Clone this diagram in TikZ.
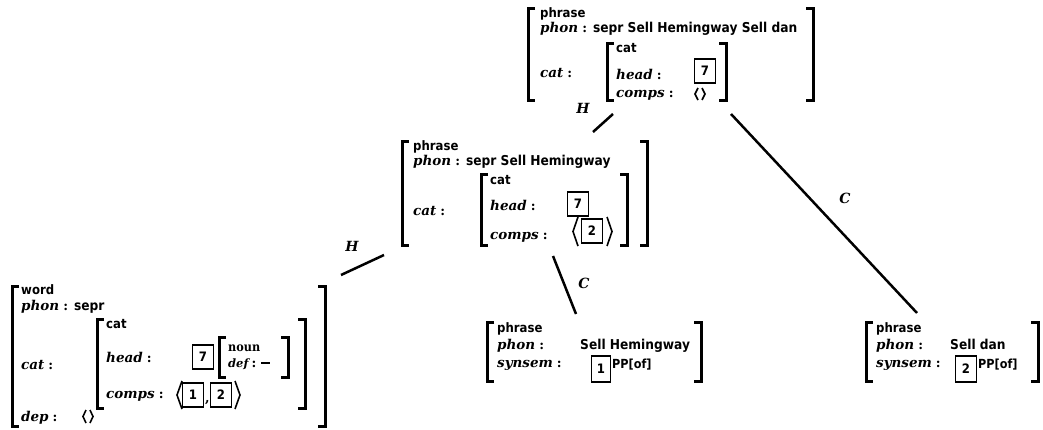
\documentclass[tikz,border=0pt]{standalone}
\usepackage{fontspec}
\usetikzlibrary{fit}

% fonts: bold italic feature names, heavy condensed sans values, bold roman atoms
\newfontfamily\attfont{DejaVu Serif}
\newfontfamily\valfont{DejaVu Sans Condensed}
\newfontfamily\romfont{DejaVu Serif Condensed}

\newcommand\att[1]{{\attfont\bfseries\itshape\fontsize{13.5}{16}\selectfont #1}}
\newcommand\val[1]{{\valfont\bfseries\fontsize{13.6}{16}\selectfont #1}}
\newcommand\typ[1]{{\valfont\bfseries\fontsize{13}{15}\selectfont #1}}
\newcommand\fsep{\hspace{4pt}:\hspace{6pt}}

\tikzset{
  txt/.style={anchor=base west, inner sep=0pt, font=\attfont\bfseries\fontsize{13}{15}\selectfont},
  avm/.style={inner sep=0pt, outer sep=0pt},
  brk/.style={line width=3pt, line join=miter},
  tagbox/.style={draw, line width=1.3pt, minimum width=21pt, minimum height=24pt,
                 inner sep=0pt, font=\valfont\bfseries\fontsize{13}{15}\selectfont},
  edge/.style={line width=2.5pt},
  elab/.style={font=\attfont\bfseries\itshape\fontsize{14}{16}\selectfont, inner sep=0pt},
  ang/.style={line width=1.6pt, line join=miter},
}

% square brackets round a feature structure node
\newcommand\avmbrackets[1]{%
  \draw[brk] ([xshift=7pt]#1.north west) -- (#1.north west) -- (#1.south west) -- ([xshift=7pt]#1.south west);
  \draw[brk] ([xshift=-7pt]#1.north east) -- (#1.north east) -- (#1.south east) -- ([xshift=-7pt]#1.south east);
}
% angle brackets: x, top, bottom, opening width
\newcommand\langbr[4]{\draw[ang] (#1+#4,#2) -- (#1,{(#2+#3)/2}) -- (#1+#4,#3);}
\newcommand\rangbr[4]{\draw[ang] (#1-#4,#2) -- (#1,{(#2+#3)/2}) -- (#1-#4,#3);}

\begin{document}
\begin{tikzpicture}[x=1pt, y=-1pt]
\useasboundingbox (0,0) rectangle (1043,430);

% ---------- mother phrase ----------
\node[avm, fit={(528,9) (813,101)}] (top) {};
\avmbrackets{top}
\node[txt] at (540,18) {\typ{phrase}};
\node[txt] at (540,33) {\att{phon}\fsep\val{sepr Sell Hemingway Sell dan}};
\node[txt] at (540,78) {\att{cat}\fsep};
\node[avm, fit={(607,44) (726,101)}] (topcat) {};
\avmbrackets{topcat}
\node[txt] at (616,53) {\typ{cat}};
\node[txt] at (616,80) {\att{head}\fsep};
\node[tagbox] (top7) at (705,71) {7};
\node[txt] at (616,98) {\att{comps}\fsep};
\langbr{695}{88}{100}{3}
\rangbr{705}{88}{100}{3}

% ---------- intermediate phrase ----------
\node[avm, fit={(402,142) (647,246)}] (mid) {};
\avmbrackets{mid}
\node[txt] at (413,151) {\typ{phrase}};
\node[txt] at (413,166) {\att{phon}\fsep\val{sepr Sell Hemingway}};
\node[txt] at (413,216) {\att{cat}\fsep};
\node[avm, fit={(481,175) (627,246)}] (midcat) {};
\avmbrackets{midcat}
\node[txt] at (490,185) {\typ{cat}};
\node[txt] at (490,211) {\att{head}\fsep};
\node[tagbox] (mid7) at (578,204) {7};
\node[txt] at (490,240) {\att{comps}\fsep};
\langbr{573}{217}{246}{5}
\node[tagbox, fill=white] (mid2) at (592,231) {2};
\rangbr{612}{217}{246}{5}

% ---------- head word ----------
\node[avm, fit={(12,286) (325,426)}] (word) {};
\avmbrackets{word}
\node[txt] at (21,294) {\typ{word}};
\node[txt] at (21,310) {\att{phon}\fsep\val{sepr}};
\node[txt] at (21,369) {\att{cat}\fsep};
\node[txt] at (21,421) {\att{dep}\fsep};
\langbr{83}{410}{423}{3}
\rangbr{93}{410}{423}{3}
\node[avm, fit={(97,319) (305,408)}] (wordcat) {};
\avmbrackets{wordcat}
\node[txt] at (106,328) {\typ{cat}};
\node[txt] at (106,362) {\att{head}\fsep};
\node[tagbox] (word7) at (203,357) {7};
\node[avm, fit={(219,337) (288,377)}] (noun) {};
\avmbrackets{noun}
\node[txt] at (228,351) {\romfont\bfseries\fontsize{12.5}{14}\selectfont noun};
\node[txt] at (228,367) {{\attfont\bfseries\itshape\fontsize{11.5}{13}\selectfont def}\hspace{3pt}:\hspace{5pt}\rule[3.5pt]{9pt}{1.8pt}};
\node[txt] at (106,398) {\att{comps}\fsep};
\langbr{177}{381}{409}{5}
\node[tagbox] (word1) at (193,395) {1};
\node[txt] at (205,402) {,};
\node[tagbox] (word2) at (221,395) {2};
\rangbr{240}{381}{409}{5}

% ---------- first complement ----------
\node[avm, fit={(487,322) (701,381)}] (comp1) {};
\avmbrackets{comp1}
\node[txt] at (497,332) {\typ{phrase}};
\node[txt] at (497,349) {\att{phon}\fsep};
\node[txt] at (580,349) {\val{Sell Hemingway}};
\node[txt] at (497,367) {\att{synsem}\fsep};
\node[tagbox, minimum width=19pt, minimum height=26pt] (c1tag) at (601,369) {1};
\node[txt] at (612,368) {\valfont\bfseries\fontsize{12.5}{14}\selectfont PP[of]};

% ---------- second complement ----------
\node[avm, fit={(866,322) (1038,381)}] (comp2) {};
\avmbrackets{comp2}
\node[txt] at (876,332) {\typ{phrase}};
\node[txt] at (876,349) {\att{phon}\fsep};
\node[txt] at (950,349) {\val{Sell dan}};
\node[txt] at (876,367) {\att{synsem}\fsep};
\node[tagbox, minimum width=21pt, minimum height=26pt] (c2tag) at (966,369) {2};
\node[txt] at (978,368) {\valfont\bfseries\fontsize{12.5}{14}\selectfont PP[of]};

% ---------- branches ----------
\coordinate (hA) at (613,114);  \coordinate (hB) at (593,132);
\coordinate (cA) at (731,114);  \coordinate (cB) at (917,313);
\coordinate (hC) at (384,255);  \coordinate (hD) at (341,275);
\coordinate (cC) at (553,256);  \coordinate (cD) at (576,314);
\draw[edge] (hA) -- (hB);
\draw[edge] (cA) -- (cB);
\draw[edge] (hC) -- (hD);
\draw[edge] (cC) -- (cD);
\node[elab] (lh1) at (583,108) {H};
\node[elab] (lc1) at (845,198) {C};
\node[elab] (lh2) at (352,246) {H};
\node[elab] (lc2) at (584,283) {C};
\end{tikzpicture}
\end{document}
